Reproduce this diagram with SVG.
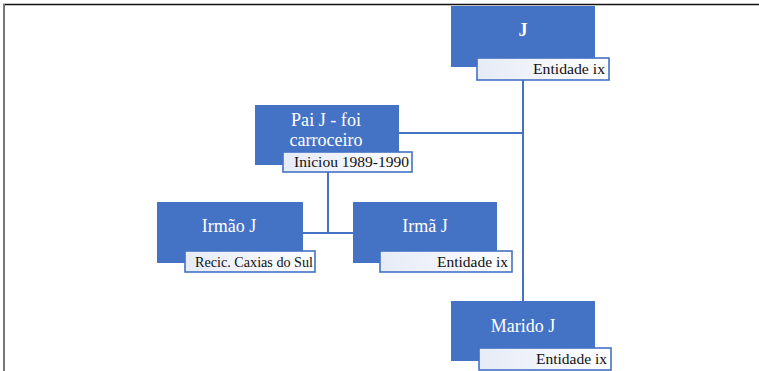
<svg xmlns="http://www.w3.org/2000/svg" width="759" height="371" viewBox="0 0 759 371">
<style>
.box{fill:#4472C4;}
.lab{fill:url(#lg);stroke:#4472C4;stroke-width:1.6;}
.nt{font-family:"Liberation Serif",serif;font-size:18px;fill:#ffffff;text-anchor:middle;}
.lt{font-family:"Liberation Serif",serif;font-size:15px;fill:#111111;text-anchor:end;}
.con{stroke:#4472C4;stroke-width:2;fill:none;}
</style>
<defs>
<linearGradient id="lg" x1="0" y1="0" x2="1" y2="0">
<stop offset="0" stop-color="#e6ebf6"/>
<stop offset="0.6" stop-color="#f4f6fb"/>
<stop offset="1" stop-color="#ffffff"/>
</linearGradient>
</defs>
<rect x="0" y="0" width="759" height="371" fill="#ffffff"/>
<line x1="3" y1="4.5" x2="759" y2="4.5" stroke="#111111" stroke-width="1.5"/>
<line x1="4" y1="4" x2="4" y2="371" stroke="#777777" stroke-width="2"/>
<g id="connectors">
<path class="con" d="M523 80 V301"/>
<path class="con" d="M399 133 H523"/>
<path class="con" d="M328 172 V233"/>
<path class="con" d="M303 233 H353"/>
</g>
<g id="node-j">
<rect class="box" x="451" y="6" width="144" height="61"/>
<text class="nt" x="523" y="36" font-weight="bold" font-size="15">J</text>
<rect class="lab" x="477" y="58" width="132" height="22"/>
<text class="lt" x="605" y="74" textLength="72" lengthAdjust="spacingAndGlyphs">Entidade ix</text>
</g>
<g id="node-pai">
<rect class="box" x="255" y="105" width="144" height="60"/>
<text class="nt" x="326" y="126" font-size="15.5" textLength="70" lengthAdjust="spacingAndGlyphs">Pai J - foi</text>
<text class="nt" x="326" y="146" font-size="15.5" textLength="73" lengthAdjust="spacingAndGlyphs">carroceiro</text>
<rect class="lab" x="283" y="152" width="129" height="20"/>
<text class="lt" x="409" y="167" textLength="115" lengthAdjust="spacingAndGlyphs">Iniciou 1989-1990</text>
</g>
<g id="node-irmao">
<rect class="box" x="157" y="202" width="146" height="61"/>
<text class="nt" x="229" y="232">Irmão J</text>
<rect class="lab" x="185" y="251" width="130" height="21"/>
<text class="lt" x="313" y="267" textLength="118" lengthAdjust="spacingAndGlyphs">Recic. Caxias do Sul</text>
</g>
<g id="node-irma">
<rect class="box" x="353" y="202" width="144" height="61"/>
<text class="nt" x="425" y="232">Irmã J</text>
<rect class="lab" x="380" y="251" width="132" height="21"/>
<text class="lt" x="508" y="267" textLength="71" lengthAdjust="spacingAndGlyphs">Entidade ix</text>
</g>
<g id="node-marido">
<rect class="box" x="451" y="301" width="144" height="60"/>
<text class="nt" x="523" y="332">Marido J</text>
<rect class="lab" x="479" y="348" width="132" height="22"/>
<text class="lt" x="607" y="364" textLength="71" lengthAdjust="spacingAndGlyphs">Entidade ix</text>
</g>
</svg>
